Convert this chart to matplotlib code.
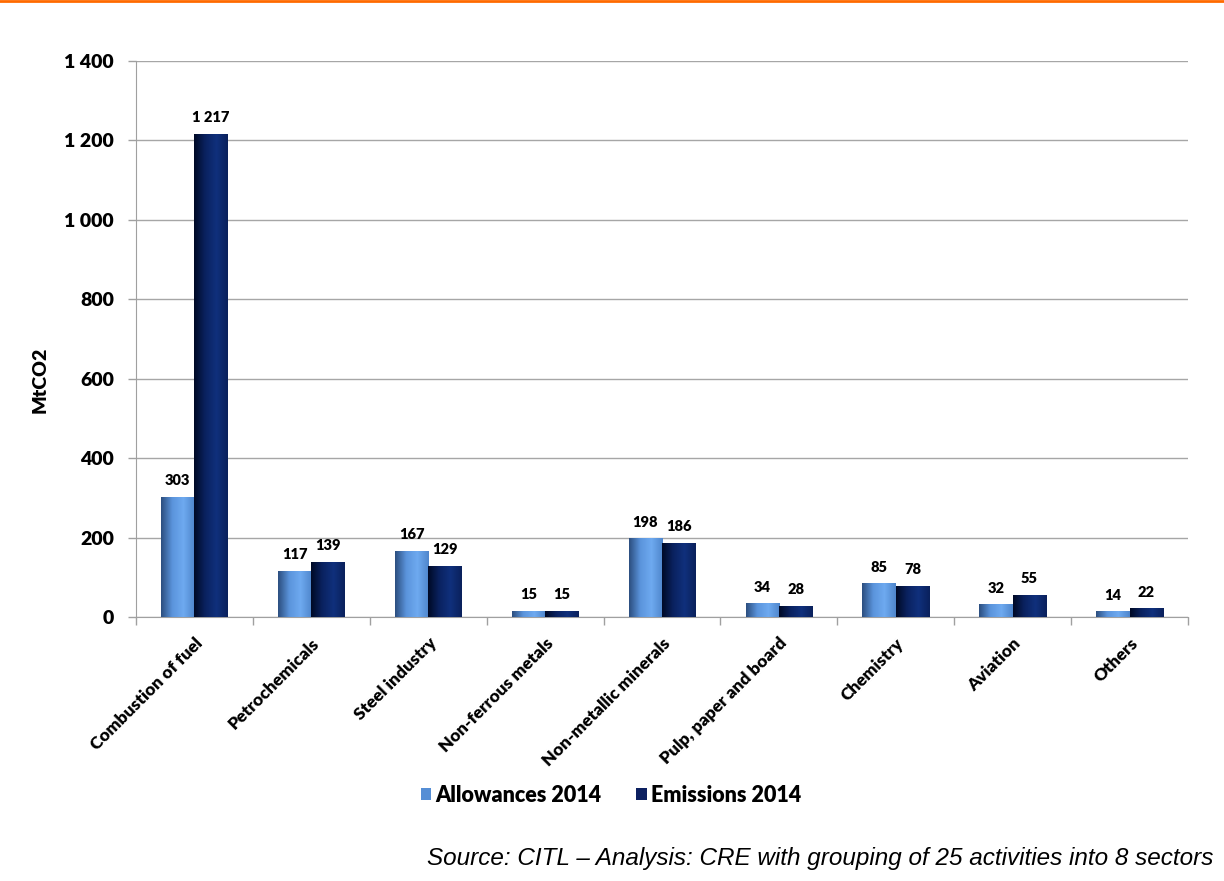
import matplotlib

matplotlib.use("Agg")
import matplotlib.pyplot as plt
import numpy as np
from matplotlib.colors import LinearSegmentedColormap, to_rgb
from matplotlib.lines import Line2D
from matplotlib.patches import Patch

SECTORS = [
    "Combustion of fuel",
    "Petrochemicals",
    "Steel industry",
    "Non-ferrous metals",
    "Non-metallic minerals",
    "Pulp, paper and board",
    "Chemistry",
    "Aviation",
    "Others",
]
ALLOWANCES = [303, 117, 167, 15, 198, 34, 85, 32, 14]
EMISSIONS = [1217, 139, 129, 15, 186, 28, 78, 55, 22]
Y_TICKS = [0, 200, 400, 600, 800, 1000, 1200, 1400]

SERIES = [
    ("Allowances 2014", ALLOWANCES, "#558ed5", ["#2c4f80", "#5b94dc", "#6eaaf0", "#4f86cc"]),
    ("Emissions 2014", EMISSIONS, "#0c2060", ["#000a26", "#0a2260", "#10307c", "#0a215c"]),
]

FONT = "Lato"
WEIGHT = "heavy"


def fmt(v):
    return f"{v:,}".replace(",", " ")


def gradient_bars(ax, bars, stops):
    cmap = LinearSegmentedColormap.from_list("g", [to_rgb(c) for c in stops])
    ramp = np.linspace(0, 1, 64).reshape(1, -1)
    for b in bars:
        x0, y0 = b.get_x(), b.get_y()
        im = ax.imshow(ramp, cmap=cmap, aspect="auto", interpolation="bilinear",
                       extent=(x0, x0 + b.get_width(), y0, y0 + b.get_height()),
                       zorder=3)
        im.set_clip_path(b)


fig = plt.figure(figsize=(12.24, 8.81), dpi=100)
ax = fig.add_axes([136 / 1224, 1 - 617 / 881, (1188 - 136) / 1224, (617 - 61) / 881])

x = np.arange(len(SECTORS))
width = 0.285
for i, (name, vals, solid, stops) in enumerate(SERIES):
    offs = (i - 0.5) * width
    bars = ax.bar(x + offs, vals, width, color=solid, zorder=2, linewidth=0)
    gradient_bars(ax, bars, stops)
    for xi, v in zip(x + offs, vals):
        ax.annotate(fmt(v), xy=(xi, v), xytext=(0, 7), textcoords="offset points",
                    ha="center", va="bottom", fontsize=10.5, fontweight=WEIGHT,
                    family=FONT, zorder=4)

ax.set_xlim(-0.5, len(SECTORS) - 0.5)
ax.set_ylim(0, 1400)
ax.set_yticks(Y_TICKS)
ax.set_yticklabels([fmt(t) for t in Y_TICKS], fontsize=14, fontweight=WEIGHT, family=FONT)
ax.set_xticks(x)
ax.set_xticklabels(SECTORS, rotation=45, ha="right", rotation_mode="anchor",
                   fontsize=12.5, fontweight=WEIGHT, family=FONT)
ax.set_xticks(np.arange(len(SECTORS) + 1) - 0.5, minor=True)
ax.tick_params(axis="x", which="major", length=0, pad=13)
ax.tick_params(axis="x", which="minor", length=6, color="#a0a0a0", width=1)
ax.tick_params(axis="y", length=6, color="#a0a0a0", width=1, pad=10)
ax.yaxis.grid(True, color="#a6a6a6", linewidth=1)
ax.set_axisbelow(True)
for side in ("top", "right"):
    ax.spines[side].set_visible(False)
for side in ("left", "bottom"):
    ax.spines[side].set_color("#a0a0a0")

fig.text(40 / 1224, 1 - 380 / 881, "MtCO2", rotation=90, ha="center", va="center",
         fontsize=14, fontweight=WEIGHT, family=FONT)

handles = [Patch(facecolor=s[2], edgecolor="none") for s in SERIES]
fig.legend(handles, [s[0] for s in SERIES], loc="center", bbox_to_anchor=(611 / 1224, 1 - 795 / 881),
           ncol=2, frameon=False, handlelength=0.5, handleheight=0.5, handletextpad=0.2,
           columnspacing=1.6, prop={"family": FONT, "weight": WEIGHT, "size": 15.5})

fig.text(1213 / 1224, 1 - 858 / 881,
         "Source: CITL \u2013 Analysis: CRE with grouping of 25 activities into 8 sectors",
         ha="right", va="center", fontsize=17.5, style="italic", family="Liberation Sans")

fig.add_artist(Line2D([0, 1], [1 - 1 / 881, 1 - 1 / 881], transform=fig.transFigure,
                      color="#ff6a00", linewidth=2))

fig.savefig("out.png", dpi=100)
